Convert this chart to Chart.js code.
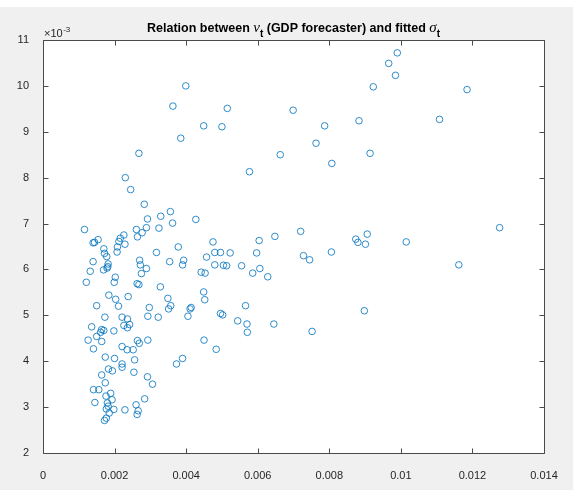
<!DOCTYPE html>
<html>
<head>
<meta charset="utf-8">
<script src="https://cdn.jsdelivr.net/npm/chart.js@4"></script>
<style>
html,body{margin:0;padding:0;background:#f0f0f0;}
canvas{display:block;}
</style>
</head>
<body>
<canvas id="c" width="573" height="490"></canvas>
<script>
// nu_t (GDP forecaster), x values
const nuValues = [
0.00268,0.00230,0.00245,0.00283,0.00116,0.00356,0.00329,0.00292,0.00362,0.00427,
0.00289,0.00324,0.00261,0.00277,0.00264,0.00226,0.00216,0.00212,0.00229,0.00208,
0.00207,0.00154,0.00144,0.00140,0.00170,0.00172,0.00178,0.00140,0.00182,0.00181,
0.00169,0.00179,0.00132,0.00121,0.00202,0.00199,0.00184,0.00203,0.00238,0.00270,
0.00272,0.00289,0.00275,0.00263,0.00268,0.00317,0.00354,0.00378,0.00393,0.00390,
0.00328,0.00457,0.00442,0.00453,0.00449,0.00452,0.00349,
0.00150,0.00211,0.00297,0.00293,0.00322,0.00351,0.00357,0.00405,0.00411,0.00414,
0.00450,0.00136,0.00173,0.00164,0.00161,0.00170,0.00126,0.00150,0.00164,0.00141,
0.00198,0.00221,0.00236,0.00226,0.00242,0.00236,0.00221,0.00235,0.00252,0.00264,
0.00269,0.00293,0.00174,0.00200,0.00256,0.00221,0.00221,0.00183,0.00194,0.00254,
0.00164,0.00174,0.00292,0.00306,0.00373,0.00390,0.00141,0.00156,0.00145,0.00176,
0.00189,0.00193,0.00180,0.00182,0.00177,0.00198,0.00185,0.00177,0.00172,0.00229,
0.00260,0.00266,0.00263,0.00284,
0.00475,0.00480,0.00496,0.00523,0.00480,0.00504,0.00513,0.00555,0.00597,0.00604,
0.00648,0.00720,0.00606,0.00586,0.00628,0.00728,0.00745,0.00806,0.00874,0.00880,
0.00901,0.00906,0.00496,0.00502,0.00566,0.00544,0.00570,0.00571,0.00645,0.00752,
0.00898,0.00484,
0.00399,0.00385,0.00449,0.00500,0.00515,0.00577,0.00663,0.00699,0.00763,0.00787,
0.00807,0.00883,0.00914,0.00923,
0.00990,0.00966,0.00985,0.01108,0.01185,
0.01015,0.01276,0.01162,
0.00363
];
// fitted sigma_t, y values
const sigmaValues = [
0.00853,0.00800,0.00774,0.00742,0.00687,0.00726,0.00716,0.00710,0.00701,0.00709,
0.00691,0.00690,0.00687,0.00680,0.00671,0.00675,0.00668,0.00661,0.00655,0.00649,
0.00638,0.00665,0.00659,0.00658,0.00645,0.00635,0.00628,0.00617,0.00612,0.00606,
0.00599,0.00603,0.00596,0.00572,0.00583,0.00572,0.00544,0.00535,0.00541,0.00620,
0.00610,0.00602,0.00591,0.00569,0.00567,0.00637,0.00617,0.00649,0.00620,0.00610,
0.00562,0.00627,0.00594,0.00592,0.00551,0.00534,0.00537,
0.00521,0.00520,0.00517,0.00498,0.00496,0.00514,0.00521,0.00498,0.00514,0.00517,
0.00446,0.00475,0.00496,0.00469,0.00463,0.00467,0.00446,0.00454,0.00443,0.00427,
0.00466,0.00496,0.00492,0.00478,0.00480,0.00473,0.00432,0.00425,0.00425,0.00445,
0.00439,0.00446,0.00409,0.00406,0.00403,0.00394,0.00387,0.00383,0.00379,0.00376,
0.00370,0.00353,0.00366,0.00350,0.00394,0.00406,0.00338,0.00338,0.00310,0.00324,
0.00330,0.00316,0.00309,0.00302,0.00296,0.00295,0.00287,0.00276,0.00271,0.00294,
0.00305,0.00292,0.00284,0.00318,
0.00660,0.00637,0.00637,0.00636,0.00610,0.00609,0.00608,0.00608,0.00636,0.00663,
0.00672,0.00683,0.00602,0.00592,0.00584,0.00630,0.00621,0.00638,0.00666,0.00659,
0.00655,0.00677,0.00504,0.00501,0.00521,0.00488,0.00481,0.00463,0.00481,0.00465,
0.00510,0.00426,
0.01000,0.00886,0.00913,0.00911,0.00951,0.00813,0.00850,0.00947,0.00875,0.00913,
0.00831,0.00924,0.00853,0.00998,
0.01072,0.01049,0.01023,0.00927,0.00992,
0.00660,0.00691,0.00610,
0.00956
];
const xTickValues = [0,0.002,0.004,0.006,0.008,0.010,0.012,0.014];
const xTickLabels = ['0','0.002','0.004','0.006','0.008','0.01','0.012','0.014'];
const yTickValues = [0.002,0.003,0.004,0.005,0.006,0.007,0.008,0.009,0.010,0.011];
const yTickLabels = ['2','3','4','5','6','7','8','9','10','11'];
const titleParts = [
  {text:'Relation between ', kind:'b'},
  {text:'\u03bd', kind:'g'},
  {text:'t', kind:'s'},
  {text:' (GDP forecaster) and fitted ', kind:'b'},
  {text:'\u03c3', kind:'g'},
  {text:'t', kind:'s'}
];

const points = nuValues.map((x,i)=>({x:x, y:sigmaValues[i]}));
const TXT = '#262626';

const fonts = {
  b:'bold 12.5px Arial, "Liberation Sans", sans-serif',
  g:'italic 15px "Liberation Serif", "DejaVu Serif", serif',
  s:'bold 10px Arial, "Liberation Sans", sans-serif'
};

const decor = {
  id:'decor',
  beforeDraw(chart){
    const ctx = chart.ctx, a = chart.chartArea;
    ctx.save();
    ctx.fillStyle = '#f0f0f0';
    ctx.fillRect(0,0,chart.width,chart.height);
    ctx.fillStyle = '#ffffff';
    ctx.fillRect(0,0,chart.width,7);
    ctx.fillRect(a.left,a.top,a.right-a.left,a.bottom-a.top);
    ctx.restore();
  },
  afterDraw(chart){
    const ctx = chart.ctx, a = chart.chartArea;
    const xs = chart.scales.x, ys = chart.scales.y;
    ctx.save();
    ctx.strokeStyle = '#4a4a4a';
    ctx.lineWidth = 1;
    const L = Math.round(a.left)+0.5, R = Math.round(a.right)+0.5;
    const T = Math.round(a.top)+0.5, B = Math.round(a.bottom)+0.5;
    ctx.beginPath();
    ctx.rect(L,T,R-L,B-T);
    ctx.stroke();
    ctx.beginPath();
    const tl = 5;
    xTickValues.forEach(v=>{
      const px = Math.round(xs.getPixelForValue(v))+0.5;
      ctx.moveTo(px,B); ctx.lineTo(px,B-tl);
      ctx.moveTo(px,T); ctx.lineTo(px,T+tl);
    });
    yTickValues.forEach(v=>{
      const py = Math.round(ys.getPixelForValue(v))+0.5;
      ctx.moveTo(L,py); ctx.lineTo(L+tl,py);
      ctx.moveTo(R,py); ctx.lineTo(R-tl,py);
    });
    ctx.stroke();

    // exponent label
    ctx.fillStyle = TXT;
    ctx.textBaseline = 'alphabetic';
    ctx.textAlign = 'left';
    ctx.font = '11px Arial, "Liberation Sans", sans-serif';
    ctx.fillText('\u00d710', a.left+1, 37);
    const w10 = ctx.measureText('\u00d710').width;
    ctx.font = '8px Arial, "Liberation Sans", sans-serif';
    ctx.fillText('-3', a.left+1+w10+0.5, 32);

    // title
    let total = 0;
    titleParts.forEach(p=>{ ctx.font = fonts[p.kind]; p.w = ctx.measureText(p.text).width; total += p.w; });
    let x = (a.left+a.right)/2 - total/2;
    const base = 32;
    ctx.fillStyle = '#000000';
    titleParts.forEach(p=>{
      ctx.font = fonts[p.kind];
      ctx.fillText(p.text, x, p.kind==='s' ? base+5 : base);
      x += p.w;
    });
    ctx.restore();
  }
};

new Chart(document.getElementById('c'), {
  type:'scatter',
  data:{datasets:[{
    data:points,
    pointStyle:'circle',
    pointRadius:3.3,
    pointHoverRadius:3.3,
    borderColor:'rgba(0,114,189,0.9)',
    backgroundColor:'rgba(0,0,0,0)',
    borderWidth:0.9,
    showLine:false
  }]},
  options:{
    responsive:false,
    animation:false,
    events:[],
    layout:{padding:{top:40,right:29,left:0,bottom:0}},
    plugins:{legend:{display:false},title:{display:false},tooltip:{enabled:false}},
    scales:{
      x:{
        type:'linear', min:0, max:0.014,
        afterBuildTicks:s=>{ s.ticks = xTickValues.map(v=>({value:v})); },
        afterFit:s=>{ s.height = 37; },
        ticks:{
          autoSkip:false, maxRotation:0, minRotation:0, padding:8,
          color:TXT, font:{family:'Arial, "Liberation Sans", sans-serif', size:11},
          callback:(v,i)=>xTickLabels[i]
        },
        grid:{display:false}, border:{display:false}
      },
      y:{
        type:'linear', min:0.002, max:0.011,
        afterBuildTicks:s=>{ s.ticks = yTickValues.map(v=>({value:v})); },
        afterFit:s=>{ s.width = 43; },
        ticks:{
          autoSkip:false, padding:6,
          color:TXT, font:{family:'Arial, "Liberation Sans", sans-serif', size:11},
          callback:(v,i)=>yTickLabels[i]
        },
        grid:{display:false}, border:{display:false}
      }
    }
  },
  plugins:[decor]
});
</script>
</body>
</html>
